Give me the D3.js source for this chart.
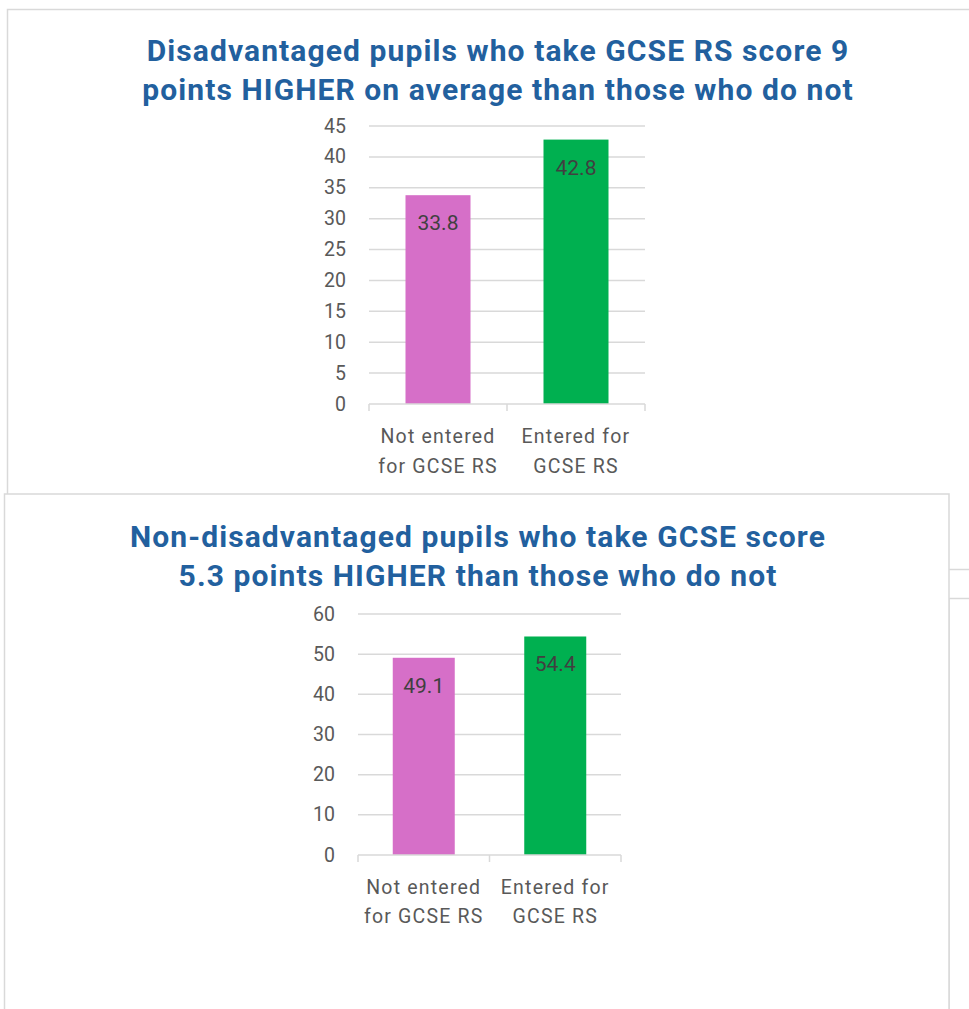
<!DOCTYPE html>
<html>
<head>
<meta charset="utf-8">
<script src="https://cdn.jsdelivr.net/npm/d3@7"></script>
<style>
  body { margin: 0; background: #fff; }
  svg { display: block; }
</style>
</head>
<body>
<div id="chart"></div>
<script>
// data
const categoryLines = [["Not entered", "for GCSE RS"], ["Entered for", "GCSE RS"]];
const categories = ["Not entered for GCSE RS", "Entered for GCSE RS"];
const disadvantagedScores = [33.8, 42.8];
const nonDisadvantagedScores = [49.1, 54.4];
const disadvantagedTicks = [0, 5, 10, 15, 20, 25, 30, 35, 40, 45];
const nonDisadvantagedTicks = [0, 10, 20, 30, 40, 50, 60];
const disadvantagedTitle = ["Disadvantaged pupils who take GCSE RS score 9", "points HIGHER on average than those who do not"];
const nonDisadvantagedTitle = ["Non-disadvantaged pupils who take GCSE score", "5.3 points HIGHER than those who do not"];
const barColors = ["#D66FC8", "#00B050"];

/** CONSTANTS */
const width = 969;
const height = 1009;
const gridColor = "#D9D9D9";
const labelColor = "#595959";
const titleColor = "#22609E";
const labelFont = "Roboto, 'Liberation Sans', sans-serif";

const svg = d3.select("#chart")
  .append("svg")
  .attr("width", width)
  .attr("height", height);

// chart frames (they overlap like pasted office charts)
svg.append("rect")
  .attr("x", 949).attr("y", 598.5).attr("width", 200).attr("height", 600)
  .attr("fill", "#fff").attr("stroke", gridColor).attr("stroke-width", 1.5);
svg.append("rect")
  .attr("x", 7.5).attr("y", 9.5).attr("width", 1100).attr("height", 560)
  .attr("fill", "#fff").attr("stroke", gridColor).attr("stroke-width", 1.5);
svg.append("rect")
  .attr("x", 4.5).attr("y", 494).attr("width", 944.5).attr("height", 600)
  .attr("fill", "#fff").attr("stroke", gridColor).attr("stroke-width", 1.5);

function drawChart(opts) {
  const g = svg.append("g");

  // title
  g.selectAll("text.title")
    .data(opts.title)
    .join("text")
    .attr("class", "title")
    .attr("x", opts.titleX)
    .attr("y", (d, i) => opts.titleY + i * 39)
    .attr("text-anchor", "middle")
    .attr("dominant-baseline", "central")
    .attr("font-family", "Roboto, sans-serif")
    .attr("font-weight", "bold")
    .attr("font-size", 30)
    .attr("letter-spacing", 1.1)
    .attr("fill", titleColor)
    .text(d => d);

  const xScale = d3.scaleBand()
    .domain(categories)
    .range([opts.left, opts.right])
    .paddingInner(0)
    .paddingOuter(0);

  const yScale = d3.scaleLinear()
    .domain([0, d3.max(opts.ticks)])
    .range([opts.bottom, opts.top]);

  // gridlines
  g.selectAll("line.grid")
    .data(opts.ticks.filter(t => t > 0))
    .join("line")
    .attr("class", "grid")
    .attr("x1", opts.left).attr("x2", opts.right)
    .attr("y1", d => yScale(d)).attr("y2", d => yScale(d))
    .attr("stroke", gridColor).attr("stroke-width", 1.5);

  // y tick labels
  g.selectAll("text.ytick")
    .data(opts.ticks)
    .join("text")
    .attr("class", "ytick")
    .attr("x", opts.left - 23)
    .attr("y", d => yScale(d))
    .attr("text-anchor", "end")
    .attr("dominant-baseline", "central")
    .attr("font-family", labelFont)
    .attr("font-size", 19.5)
    .attr("fill", labelColor)
    .text(d => d);

  // bars
  const barW = opts.barWidth;
  g.selectAll("rect.bar")
    .data(opts.values)
    .join("rect")
    .attr("class", "bar")
    .attr("x", (d, i) => xScale(categories[i]) + xScale.bandwidth() / 2 - barW / 2)
    .attr("y", d => yScale(d))
    .attr("width", barW)
    .attr("height", d => opts.bottom - yScale(d))
    .attr("fill", (d, i) => barColors[i]);

  // value labels inside bars
  g.selectAll("text.value")
    .data(opts.values)
    .join("text")
    .attr("class", "value")
    .attr("x", (d, i) => xScale(categories[i]) + xScale.bandwidth() / 2)
    .attr("y", d => yScale(d) + 28)
    .attr("text-anchor", "middle")
    .attr("dominant-baseline", "central")
    .attr("font-family", labelFont)
    .attr("font-size", 21)
    .attr("fill", "#404040")
    .text(d => d3.format(".1f")(d));

  // x axis line + tick marks
  g.append("line")
    .attr("x1", opts.left).attr("x2", opts.right)
    .attr("y1", opts.bottom).attr("y2", opts.bottom)
    .attr("stroke", gridColor).attr("stroke-width", 1.5);
  const tickXs = [opts.left].concat(categories.map(c => xScale(c) + xScale.bandwidth()));
  g.selectAll("line.xtick")
    .data(tickXs)
    .join("line")
    .attr("class", "xtick")
    .attr("x1", d => d).attr("x2", d => d)
    .attr("y1", opts.bottom).attr("y2", opts.bottom + 7)
    .attr("stroke", gridColor).attr("stroke-width", 1.5);

  // category labels
  categoryLines.forEach((lines, i) => {
    g.selectAll("text.cat" + i)
      .data(lines)
      .join("text")
      .attr("class", "cat" + i)
      .attr("x", xScale(categories[i]) + xScale.bandwidth() / 2)
      .attr("y", (d, j) => opts.bottom + opts.catOffset + j * opts.catGap)
      .attr("text-anchor", "middle")
      .attr("dominant-baseline", "central")
      .attr("font-family", labelFont)
      .attr("font-size", 19.5)
      .attr("letter-spacing", 1.2)
      .attr("fill", labelColor)
      .text(d => d);
  });
}

drawChart({
  title: disadvantagedTitle, titleX: 498, titleY: 50,
  values: disadvantagedScores, ticks: disadvantagedTicks,
  left: 369, right: 645, top: 126, bottom: 404,
  barWidth: 65, catOffset: 32, catGap: 30
});

drawChart({
  title: nonDisadvantagedTitle, titleX: 478, titleY: 536,
  values: nonDisadvantagedScores, ticks: nonDisadvantagedTicks,
  left: 358, right: 621, top: 614, bottom: 855,
  barWidth: 62, catOffset: 32, catGap: 29
});
</script>
</body>
</html>
